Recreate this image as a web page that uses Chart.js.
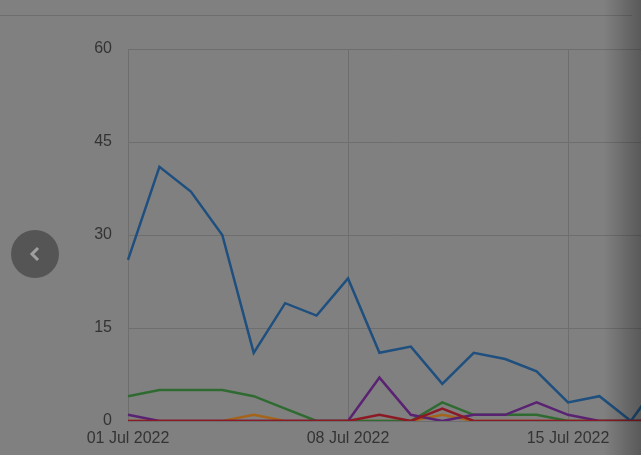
<!DOCTYPE html>
<html>
<head>
<meta charset="utf-8">
<script src="https://cdn.jsdelivr.net/npm/chart.js@4"></script>
<style>
  html, body { margin: 0; padding: 0; }
  body { width: 641px; height: 455px; overflow: hidden; background: #808080; position: relative; font-family: "Liberation Sans", Arial, sans-serif; }
  #topline { position: absolute; left: 0; top: 15px; width: 632px; height: 1px; background: #6e6e6e; }
  #wrap { position: absolute; left: 0; top: 0; width: 700px; height: 455px; }
  #prev { position: absolute; left: 11px; top: 230px; width: 48px; height: 48px; border-radius: 50%; background: #555555; }
  #prev svg { position: absolute; left: 17px; top: 16px; }
  #shade { position: absolute; left: 604px; top: 0; width: 37px; height: 455px; background: linear-gradient(to right, rgba(0,0,0,0), rgba(0,0,0,0.3)); }
</style>
</head>
<body>
<div id="topline"></div>
<div id="wrap"><canvas id="myChart"></canvas></div>
<div id="prev"><svg width="14" height="16" viewBox="0 0 14 16"><polyline points="10,2 4,8 10,14" fill="none" stroke="#a0a0a0" stroke-width="3"/></svg></div>
<div id="shade"></div>
<script>
// Dates along the bottom, one per day
var days = ["01 Jul 2022", "02 Jul 2022", "03 Jul 2022", "04 Jul 2022", "05 Jul 2022", "06 Jul 2022",
    "07 Jul 2022", "08 Jul 2022", "09 Jul 2022", "10 Jul 2022", "11 Jul 2022", "12 Jul 2022",
    "13 Jul 2022", "14 Jul 2022", "15 Jul 2022", "16 Jul 2022", "17 Jul 2022", "18 Jul 2022"];

// Series values
var blueValues   = [26, 41, 37, 30, 11, 19, 17, 23, 11, 12, 6, 11, 10, 8, 3, 4, 0, 7];
var greenValues  = [4, 5, 5, 5, 4, 2, 0, 0, 0, 0, 3, 1, 1, 1, 0, 0, 0, 0];
var purpleValues = [1, 0, 0, 0, 0, 0, 0, 0, 7, 1, 0, 1, 1, 3, 1, 0, 0, 0];
var orangeValues = [0, 0, 0, 0, 1, 0, 0, 0, 0, 0, 1, 0, 0, 0, 0, 0, 0, 0];
var redValues    = [0, 0, 0, 0, 0, 0, 0, 0, 1, 0, 2, 0, 0, 0, 0, 0, 0, 0];

// y-axis ticks
var yTicks = [0, 15, 30, 45, 60];

var gridColor = "#6e6e6e";

function line(values, color) {
    return { data: values, borderColor: color, borderWidth: 2.5, pointRadius: 0, tension: 0, fill: false };
}

new Chart("myChart", {
    type: "line",
    data: {
        labels: days,
        // first dataset is drawn on top
        datasets: [
            line(redValues, "#8c1a24"),
            line(blueValues, "#1f4f7e"),
            line(purpleValues, "#5a2272"),
            line(greenValues, "#2f6b31"),
            line(orangeValues, "#a5641a")
        ]
    },
    options: {
        responsive: true,
        maintainAspectRatio: false,
        animation: false,
        layout: { padding: { top: 49, right: 37.7, bottom: 0, left: 0 } },
        plugins: { legend: { display: false }, tooltip: { enabled: false } },
        scales: {
            x: {
                offset: false,
                grid: {
                    drawTicks: false,
                    color: ctx => (ctx.index % 7 === 0 ? gridColor : "rgba(0,0,0,0)")
                },
                border: { display: false },
                ticks: {
                    autoSkip: false,
                    maxRotation: 0,
                    padding: 8,
                    color: "#333333",
                    font: { family: "Liberation Sans", size: 16 },
                    callback: function (v, i) { return i % 7 === 0 ? days[i] : ""; }
                },
                afterFit: s => { s.height = 34; }
            },
            y: {
                min: 0,
                max: 60,
                afterBuildTicks: s => { s.ticks = yTicks.map(v => ({ value: v })); },
                grid: { drawTicks: false, color: gridColor },
                border: { display: false },
                ticks: {
                    padding: 16,
                    color: "#333333",
                    font: { family: "Liberation Sans", size: 16 }
                },
                afterFit: s => { s.width = 128; }
            }
        }
    }
});
</script>
</body>
</html>
